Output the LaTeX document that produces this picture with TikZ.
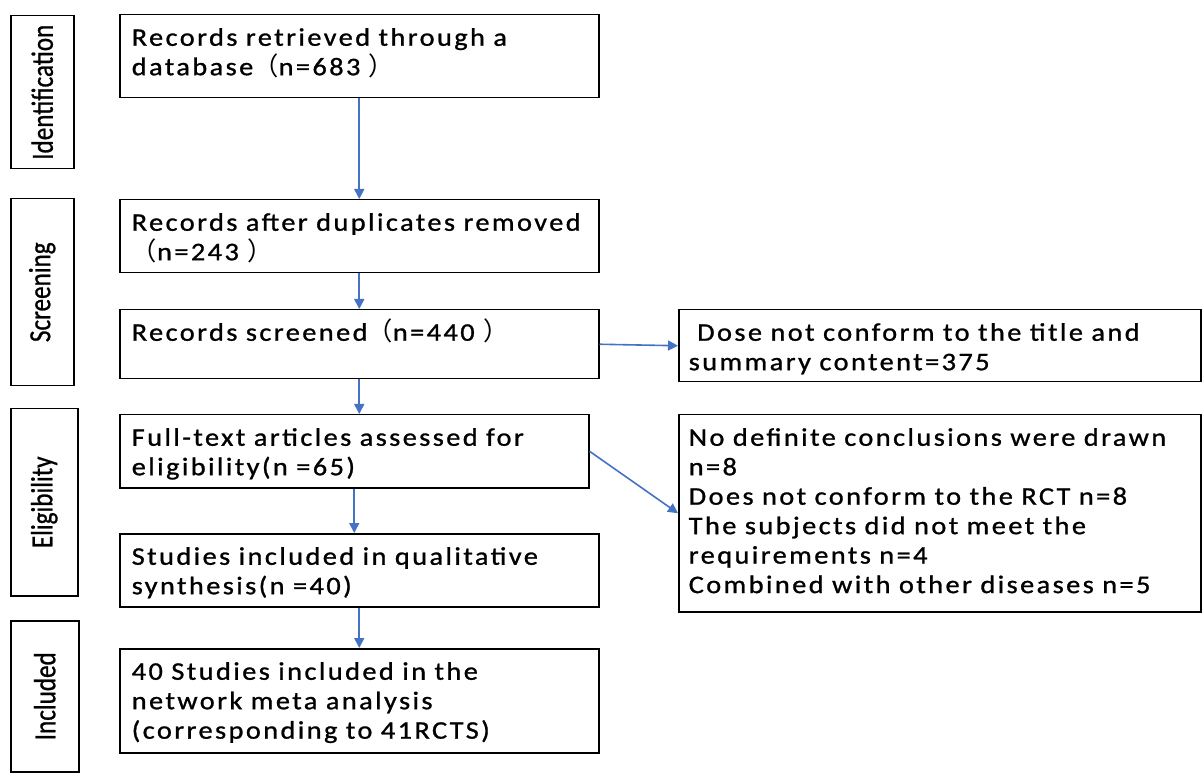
\documentclass[tikz,border=0pt]{standalone}
\usepackage{fontspec}
\setmainfont{Carlito}[FakeStretch=1.12, LetterSpace=9.5, FakeBold=1]
\newfontfamily\stagefont{Carlito}[FakeStretch=0.82, FakeBold=0.8]
\newfontfamily\cjkfont{Noto Sans CJK SC}
\newcommand\fwl{{\cjkfont （}}
\newcommand\fwr{{\cjkfont ）}}
\newdimen\px \px=0.75pt
\usetikzlibrary{arrows.meta,positioning}
\definecolor{arrowblue}{RGB}{68,114,196}
\tikzset{
  box/.style={draw, line width=1.5\px, anchor=north west, align=left, inner xsep=12\px, inner ysep=0pt, text height=31\px, font=\fontsize{19}{22.1}\selectfont},
  stage/.style={draw, line width=1.5\px, anchor=north west, inner sep=0pt, font=\stagefont\fontsize{23}{27}\selectfont},
  line/.style={-{Triangle[length=7.5pt,width=7.5pt]}, line width=1.2pt, arrowblue}
}

\begin{document}
\begin{tikzpicture}[x=0.75pt, y=-0.75pt]
  \useasboundingbox (0,0) rectangle (1203,773);
  % stages
  \node[stage, minimum width=63\px, minimum height=153\px] (ident) at (10,15) {\rotatebox{90}{Identification}};
  \node[stage, minimum width=63\px, minimum height=187\px] (screen) at (10,198) {\rotatebox{90}{Screening}};
  \node[stage, minimum width=67\px, minimum height=187\px] (elig) at (10,408) {\rotatebox{90}{Eligibility}};
  \node[stage, minimum width=68\px, minimum height=151\px] (incl) at (10,620) {\rotatebox{90}{Included}};

  % main flow
  \node[box, text width=455\px, text depth=52\px] (retrieved) at (119,14) {Records retrieved through a\\ database\fwl n=683 \fwr};
  \node[box, text width=455\px, text depth=42\px] (dedup) at (119,199) {Records after duplicates removed\\ \fwl n=243 \fwr};
  \node[box, text width=455\px, text depth=38\px] (screened) at (119,309) {Records screened\fwl n=440 \fwr};
  \node[box, text width=445\px, text depth=42\px] (fulltext) at (119,414) {Full-text articles assessed for\\ eligibility(n =65)};
  \node[box, text width=455\px, text depth=42\px] (qualit) at (119,533) {Studies included in qualitative\\ synthesis(n =40)};
  \node[box, text width=455\px, text depth=73\px] (network) at (119,648) {40 Studies included in the\\ network meta analysis\\ (corresponding to 41RCTS)};

  % exclusions
  \node[box, inner xsep=10\px, text width=502\px, text depth=41\px] (title) at (678,309) {\ Dose not conform to the title and\\ summary content=375};
  \node[box, inner xsep=10\px, text width=502\px, text depth=166\px] (excluded) at (678,414) {No definite conclusions were drawn\\ n=8\\ Does not conform to the RCT n=8\\ The subjects did not meet the\\ requirements n=4\\ Combined with other diseases n=5};

  \draw[line] (retrieved.south) -- (dedup.north);
  \draw[line] (dedup.south) -- (screened.north);
  \draw[line] (screened.south) -- (screened.south |- fulltext.north);
  \draw[line] (fulltext.south) -- (fulltext.south |- qualit.north);
  \draw[line] (qualit.south) -- (network.north);
  \draw[line] (screened.east) -- (title.west);
  \draw[line] (fulltext.east) -- (excluded.west);
\end{tikzpicture}
\end{document}
